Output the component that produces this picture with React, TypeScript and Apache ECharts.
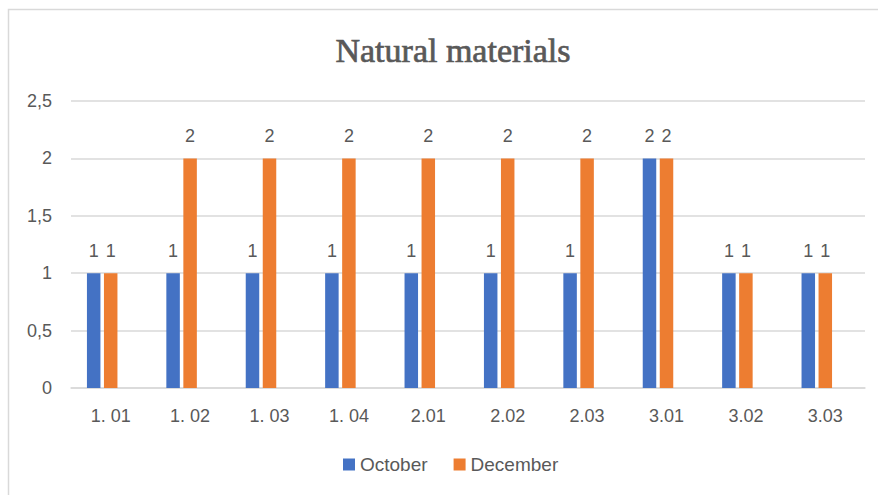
import React, { useEffect, useRef } from "react";
import * as echarts from "echarts";

const categories = ["1. 01", "1. 02", "1. 03", "1. 04", "2.01", "2.02", "2.03", "3.01", "3.02", "3.03"];
const october = [1, 1, 1, 1, 1, 1, 1, 2, 1, 1];
const december = [1, 2, 2, 2, 2, 2, 2, 2, 1, 1];
const hiddenSeries: (number | null)[] = [null, null, null, null, null, null, null, null, null, null];
const yTicks = { min: 0, max: 2.5, interval: 0.5 };

const FONT = "'Liberation Sans', Arial, sans-serif";
const TEXT = "#595959";
const GRID = "#d9d9d9";

export default function App() {
  const ref = useRef<HTMLDivElement>(null);
  useEffect(() => {
    document.body.style.margin = "0";
    const chart = echarts.init(ref.current!, null, { renderer: "svg" });
    const label = {
      show: true,
      position: "top" as const,
      distance: 13,
      color: TEXT,
      fontFamily: FONT,
      fontSize: 18,
    };
    chart.setOption({
      animation: false,
      backgroundColor: "#ffffff",
      title: {
        text: "Natural materials",
        left: 448,
        textAlign: "center",
        top: 28,
        textStyle: {
          fontFamily: "'Liberation Serif', 'DejaVu Serif', serif",
          fontSize: 34,
          fontWeight: "normal",
          color: TEXT,
          textBorderColor: TEXT,
          textBorderWidth: 0.7,
        },
      },
      graphic: [
        {
          type: "rect",
          shape: { x: 8.5, y: 9.5, width: 1000, height: 1000 },
          style: { fill: "none", stroke: GRID, lineWidth: 1.5 },
          silent: true,
          z: -1,
        },
      ],
      legend: {
        data: ["October", "December"],
        top: 450,
        left: 338,
        icon: "rect",
        itemWidth: 12,
        itemHeight: 12,
        itemGap: 26,
        textStyle: { color: TEXT, fontFamily: FONT, fontSize: 19 },
      },
      grid: { left: 71, right: 13, top: 101, bottom: 107, containLabel: false },
      xAxis: {
        type: "category",
        data: categories,
        axisLine: { show: true, lineStyle: { color: GRID, width: 1.5 } },
        axisTick: { show: false },
        axisLabel: { color: TEXT, fontFamily: FONT, fontSize: 18, margin: 19 },
      },
      yAxis: {
        type: "value",
        min: yTicks.min,
        max: yTicks.max,
        interval: yTicks.interval,
        axisLine: { show: false },
        axisTick: { show: false },
        splitLine: { lineStyle: { color: GRID, width: 1.5 } },
        axisLabel: {
          color: TEXT,
          fontFamily: FONT,
          fontSize: 18,
          margin: 19,
          formatter: (v: number) => String(v).replace(".", ","),
        },
      },
      series: [
        {
          name: "October",
          type: "bar",
          data: october,
          barWidth: 13.5,
          barGap: "26%",
          itemStyle: { color: "#4472C4" },
          label,
        },
        {
          name: "December",
          type: "bar",
          data: december,
          barWidth: 13.5,
          barGap: "26%",
          itemStyle: { color: "#ED7D31" },
          label,
        },
        {
          name: "Other",
          type: "bar",
          data: hiddenSeries,
          barWidth: 13.5,
          barGap: "26%",
          itemStyle: { color: "#A5A5A5" },
        },
      ],
    });
    return () => chart.dispose();
  }, []);
  return <div ref={ref} style={{ position: "fixed", left: 0, top: 0, width: 878, height: 495 }} />;
}
